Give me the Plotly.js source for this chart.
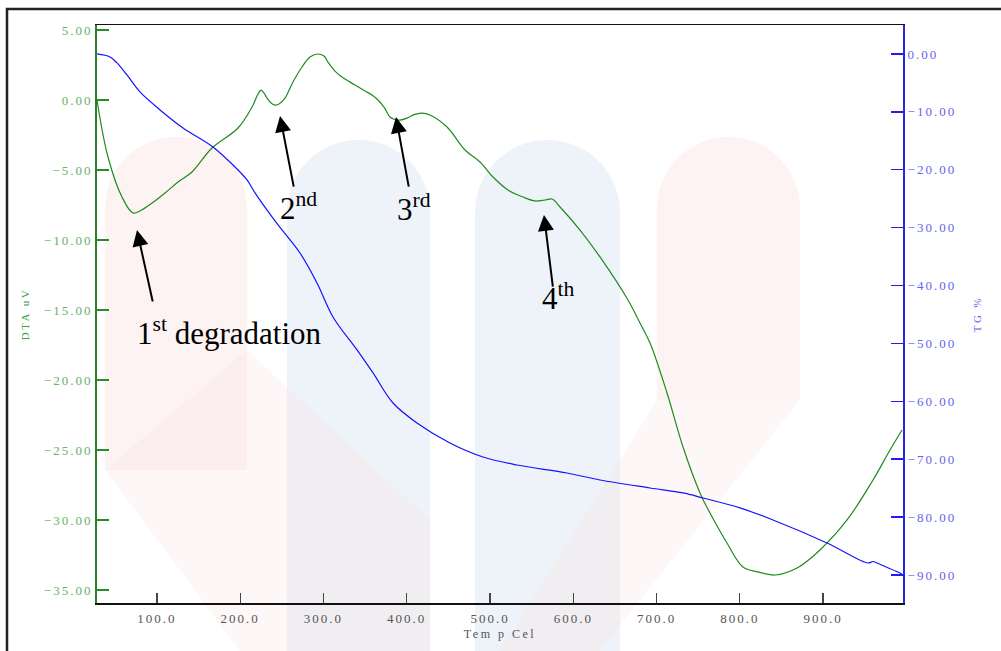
<!DOCTYPE html>
<html>
<head>
<meta charset="utf-8">
<script src="https://cdn.plot.ly/plotly-3.0.1.min.js"></script>
<style>
html,body{margin:0;padding:0;background:#fff;}
#chart{width:1001px;height:651px;}
.xtick text,.ytick text,.y2tick text{letter-spacing:2px;}
.g-xtitle text,.g-ytitle text,.g-y2title text{letter-spacing:2.5px;}
</style>
</head>
<body>
<div id="chart"></div>
<script>
// ---- data ----
const dtaTemp = [28,41.2,58.0,71.2,79.6,94.1,109.7,125.3,142.1,166.1,197.3,214.2,221.4,225.0,228.6,232.2,237.0,241.8,246.6,253.8,263.4,274.2,283.8,293.4,300.6,305.4,313.8,322.2,337.9,349.9,358.3,365.5,372.7,379.9,385.9,391.9,400.3,408.7,418.3,427.9,448.4,470.0,488.0,503.6,521.6,539.6,554.0,566.0,574.5,584.1,608.1,632.1,665.7,680.1,692.2,712.6,731.8,752.2,764.2,784.6,803.8,821.9,842.3,868.7,896.3,928.8,960.0,980.4,994.8];
const dtaValues = [0.0,-4.07,-6.93,-8.07,-7.93,-7.36,-6.64,-5.86,-5.14,-3.43,-2.0,-0.5,0.43,0.71,0.5,0.14,-0.21,-0.36,-0.29,0.14,1.29,2.36,3.07,3.29,3.14,2.71,2.07,1.64,1.07,0.64,0.36,0.0,-0.5,-1.21,-1.39,-1.43,-1.29,-1.04,-0.93,-1.07,-1.93,-3.57,-4.43,-5.5,-6.43,-6.93,-7.21,-7.14,-7.07,-7.64,-9.29,-11.21,-14.29,-15.93,-17.36,-20.93,-24.79,-28.07,-29.5,-31.64,-33.36,-33.71,-33.93,-33.43,-32.14,-30.0,-27.14,-25.0,-23.57];
const tgTemp = [28,43.6,52.0,64.0,79.6,103.7,131.3,167.3,193.7,208.2,217.8,238.2,250.2,271.8,292.2,311.4,340.3,359.5,383.5,412.3,451.9,491.6,532.4,592.5,632.1,692.2,731.8,755.8,800.2,839.9,904.7,954.0,960.0,964.8,994.8];
const tgValues = [0.0,-0.52,-1.55,-3.63,-6.56,-9.67,-12.78,-16.06,-19.52,-21.77,-24.01,-28.16,-30.4,-34.38,-39.56,-45.43,-51.13,-55.1,-60.29,-63.74,-67.2,-69.62,-71.0,-72.38,-73.59,-74.97,-75.83,-76.7,-78.42,-80.5,-84.47,-87.93,-87.67,-87.93,-89.82];
const xTickVals = [100,200,300,400,500,600,700,800,900];
const dtaTickVals = [5,0,-5,-10,-15,-20,-25,-30,-35];
const tgTickVals = [0,-10,-20,-30,-40,-50,-60,-70,-80,-90];
const stageLabels = ['1<sup>st</sup> degradation','2<sup>nd</sup>','3<sup>rd</sup>','4<sup>th</sup>'];

// ---- layout helpers (pixel -> paper) ----
const L=97,R=903,T=25,B=603;
const px = x => (x-L)/(R-L);
const py = y => (B-y)/(B-T);
function P(x,y){return px(x).toFixed(4)+','+py(y).toFixed(4);}
function column(x0,x1,yTop,yBot){
  const r=(x1-x0)/2, k=0.5523*r, cx=(x0+x1)/2, yc=yTop+r;
  return 'M'+P(x0,yBot)+' L'+P(x0,yc)+' C'+P(x0,yc-k)+' '+P(cx-k,yTop)+' '+P(cx,yTop)+
         ' C'+P(cx+k,yTop)+' '+P(x1,yc-k)+' '+P(x1,yc)+' L'+P(x1,yBot)+' Z';
}
const pink='rgba(250,222,222,0.36)', pinkBand='rgba(250,225,225,0.28)', blue='rgba(220,232,242,0.5)';
const shapes=[
  {type:'path',xref:'paper',yref:'paper',layer:'below',path:column(287,430,140,651),fillcolor:blue,line:{width:0}},
  {type:'path',xref:'paper',yref:'paper',layer:'below',path:column(475,620,140,651),fillcolor:blue,line:{width:0}},
  {type:'path',xref:'paper',yref:'paper',layer:'below',path:column(105,247,137,470),fillcolor:pink,line:{width:0}},
  {type:'path',xref:'paper',yref:'paper',layer:'below',path:column(657,800,137,400),fillcolor:pink,line:{width:0}},
  {type:'path',xref:'paper',yref:'paper',layer:'below',path:'M'+P(105,470)+' L'+P(247,350)+' L'+P(430,520)+' L'+P(430,651)+' L'+P(240,651)+' Z',fillcolor:pinkBand,line:{width:0}},
  {type:'path',xref:'paper',yref:'paper',layer:'below',path:'M'+P(800,400)+' L'+P(640,600)+' L'+P(600,651)+' L'+P(500,651)+' L'+P(657,400)+' Z',fillcolor:pinkBand,line:{width:0}},
  {type:'rect',xref:'paper',yref:'paper',x0:px(7),y0:py(9),x1:px(1012),y1:py(670),line:{color:'#222',width:2.5},fillcolor:'rgba(0,0,0,0)'}
];

const annFont={family:'Liberation Serif, Times New Roman, serif',size:31,color:'#000'};
const arrows=[[76.0,-9.29,95.3,-14.5],[247.8,-1.14,264.6,-6.29],[387.1,-1.21,402.7,-6.29],[564.8,-8.21,575.7,-13.43]];
const labelPos=[[187.7,-16.5],[270,-7.6],[409,-7.7],[582,-14.0]];
const annotations=[];
arrows.forEach(a=>annotations.push({x:a[0],y:a[1],xref:'x',yref:'y',ax:a[2],ay:a[3],axref:'x',ayref:'y',text:'',showarrow:true,arrowhead:2,arrowsize:1.6,arrowwidth:2,arrowcolor:'#000',standoff:0,startstandoff:0}));
labelPos.forEach((p,i)=>annotations.push({x:p[0],y:p[1],xref:'x',yref:'y',text:stageLabels[i],showarrow:false,font:annFont}));

const tickFont=(c)=>({family:'Liberation Serif, Times New Roman, serif',size:13,color:c});

const data=[
  {x:dtaTemp,y:dtaValues,type:'scatter',mode:'lines',name:'DTA',line:{color:'rgb(30,140,30)',width:1.2,shape:'spline',smoothing:1},yaxis:'y',hoverinfo:'skip'},
  {x:tgTemp,y:tgValues,type:'scatter',mode:'lines',name:'TG',line:{color:'rgb(20,20,255)',width:1.2,shape:'spline',smoothing:1},yaxis:'y2',hoverinfo:'skip'}
];

const layout={
  width:1001,height:651,
  margin:{l:L,r:1001-R,t:T,b:651-B,pad:0},
  paper_bgcolor:'#fff',plot_bgcolor:'rgba(0,0,0,0)',
  showlegend:false,
  shapes:shapes,
  annotations:annotations,
  xaxis:{range:[28,996],tickvals:xTickVals,tickformat:'.1f',ticks:'inside',ticklen:10,tickcolor:'#444',tickwidth:1.2,
    showline:true,linecolor:'#111',linewidth:1.5,mirror:true,showgrid:false,zeroline:false,
    tickfont:tickFont('#555'),ticklabelstandoff:3,
    title:{text:'Tem p Cel',font:{family:'Liberation Serif, serif',size:12,color:'#555'},standoff:4}},
  yaxis:{range:[-35.93,5.36],tickvals:dtaTickVals,tickformat:'.2f',ticks:'inside',ticklen:12,tickcolor:'rgb(40,140,40)',tickwidth:1.5,
    showline:true,linecolor:'rgb(40,130,40)',linewidth:2,showgrid:false,zeroline:false,
    tickfont:tickFont('rgb(100,180,100)'),
    title:{text:'DTA uV',font:{family:'Liberation Serif, serif',size:11,color:'rgb(60,160,60)'},standoff:12}},
  yaxis2:{range:[-94.84,5.0],tickvals:tgTickVals,tickformat:'.2f',ticks:'inside',ticklen:12,tickcolor:'rgb(30,30,240)',tickwidth:1.5,
    overlaying:'y',side:'right',
    showline:true,linecolor:'rgb(40,40,220)',linewidth:2,showgrid:false,zeroline:false,
    tickfont:tickFont('rgb(100,100,240)'),
    title:{text:'TG %',font:{family:'Liberation Serif, serif',size:11,color:'rgb(90,90,240)'},standoff:18}}
};

Plotly.newPlot('chart',data,layout,{displayModeBar:false,staticPlot:true});
</script>
</body>
</html>
